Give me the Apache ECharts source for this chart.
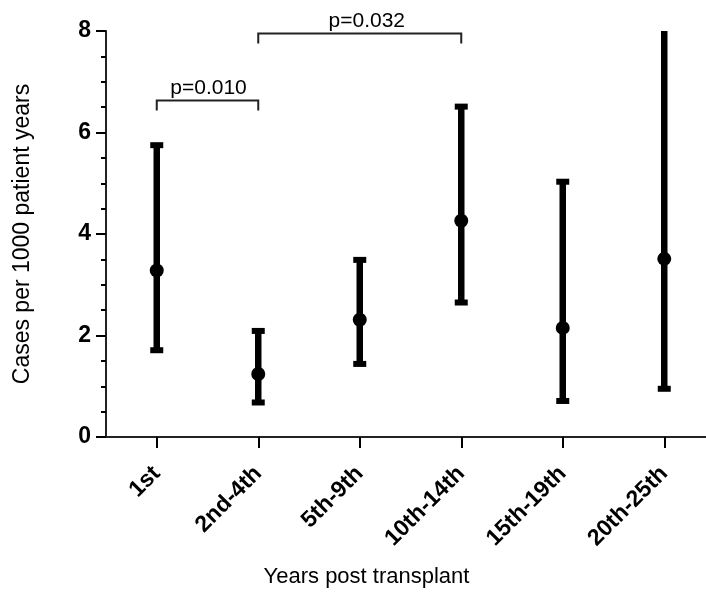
<!DOCTYPE html>
<html>
<head>
<meta charset="utf-8">
<script src="https://cdn.jsdelivr.net/npm/echarts@6/dist/echarts.min.js"></script>
<style>html,body{margin:0;padding:0;background:#fff}#c{width:706px;height:594px}</style>
</head>
<body>
<div id="c"></div>
<script>
var categories = ['1st', '2nd-4th', '5th-9th', '10th-14th', '15th-19th', '20th-25th'];
var means  = [3.28, 1.24, 2.31, 4.26, 2.15, 3.51];
var lowers = [1.71, 0.68, 1.44, 2.65, 0.71, 0.95];
var uppers = [5.75, 2.09, 3.49, 6.51, 5.03, 9.0];
var yTicks = [0, 2, 4, 6, 8];
// significance brackets: [from position, to position, bracket height, label]
var bracketFrom = [0.03, 0.88];
var bracketTo   = [1.02, 3.0];
var bracketY    = [6.63, 7.95];
var bracketText = ['p=0.010', 'p=0.032'];
var bracketTextShift = [1, 7];

var FONT = 'Liberation Sans, Arial, Helvetica, sans-serif';
var chart = echarts.init(document.getElementById('c'), null, {renderer: 'canvas'});

var errData = categories.map(function (c, i) { return [i, lowers[i], uppers[i]]; });
var ptData = categories.map(function (c, i) { return [i, means[i]]; });
var brData = bracketText.map(function (t, i) { return [bracketFrom[i], bracketTo[i], bracketY[i], i]; });

var option = {
  animation: false,
  backgroundColor: '#fff',
  grid: {left: 106, top: 31, width: 609, bottom: 157, containLabel: false, outerBoundsMode: 'none'},
  xAxis: {
    type: 'category',
    data: categories,
    boundaryGap: true,
    axisLine: {show: true, lineStyle: {color: '#222', width: 2}},
    axisTick: {show: true, alignWithLabel: true, length: 11, lineStyle: {color: '#000', width: 2}},
    axisLabel: {rotate: 45, margin: 33, color: '#000', fontWeight: 'bold', fontSize: 23, fontFamily: FONT, interval: 0},
    name: 'Years post transplant',
    nameLocation: 'middle',
    nameGap: 129,
    nameTextStyle: {color: '#000', fontSize: 22, fontFamily: FONT, padding: [0, 88, 0, 0]}
  },
  yAxis: {
    type: 'value',
    min: 0, max: 8, interval: 2,
    axisLine: {show: true, lineStyle: {color: '#222', width: 2}},
    axisTick: {show: true, length: 10, lineStyle: {color: '#000', width: 2}},
    minorTick: {show: true, splitNumber: 4, length: 5, lineStyle: {color: '#000', width: 2}},
    splitLine: {show: false},
    axisLabel: {color: '#000', fontWeight: 'bold', fontSize: 23, fontFamily: FONT, margin: 15,
      formatter: function (v) { return yTicks.indexOf(v) >= 0 ? String(v) : ''; }},
    name: 'Cases per 1000 patient years',
    nameLocation: 'middle',
    nameGap: 72,
    nameTextStyle: {color: '#000', fontSize: 23, fontFamily: FONT}
  },
  series: [
    {
      type: 'custom',
      clip: true,
      data: errData,
      encode: {x: 0, y: [1, 2]},
      renderItem: function (params, api) {
        var x = api.value(0);
        var pLo = api.coord([x, api.value(1)]);
        var pHi = api.coord([x, api.value(2)]);
        var cw = 13, ch = 6;
        return {
          type: 'group',
          children: [
            {type: 'line', shape: {x1: pLo[0], y1: pLo[1], x2: pHi[0], y2: pHi[1]}, style: {stroke: '#000', lineWidth: 6.5}},
            {type: 'rect', shape: {x: pLo[0] - cw / 2, y: pLo[1] - ch / 2, width: cw, height: ch}, style: {fill: '#000'}},
            {type: 'rect', shape: {x: pHi[0] - cw / 2, y: pHi[1] - ch / 2, width: cw, height: ch}, style: {fill: '#000'}}
          ]
        };
      },
      z: 2
    },
    {
      type: 'scatter',
      data: ptData,
      symbol: 'circle',
      symbolSize: 14,
      itemStyle: {color: '#000', opacity: 1},
      z: 3
    },
    {
      type: 'custom',
      data: brData,
      encode: {x: [0, 1], y: 2},
      renderItem: function (params, api) {
        var i = api.value(3);
        var a = api.coord([api.value(0), api.value(2)]);
        var b = api.coord([api.value(1), api.value(2)]);
        var drop = 10;
        return {
          type: 'group',
          children: [
            {type: 'polyline', shape: {points: [[a[0], a[1] + drop], [a[0], a[1]], [b[0], a[1]], [b[0], a[1] + drop]]},
              style: {stroke: '#222', lineWidth: 2, fill: null}},
            {type: 'text', x: (a[0] + b[0]) / 2 + bracketTextShift[i], y: a[1] - 2,
              style: {text: bracketText[i], fill: '#000', font: '21px ' + FONT, textAlign: 'center', textVerticalAlign: 'bottom'}}
          ]
        };
      },
      z: 4
    }
  ]
};
chart.setOption(option);
</script>
</body>
</html>
